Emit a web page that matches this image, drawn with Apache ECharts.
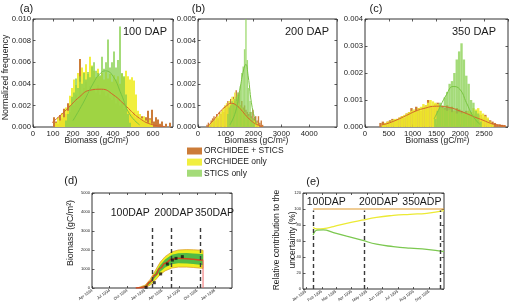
<!DOCTYPE html>
<html><head><meta charset="utf-8">
<script src="https://cdn.jsdelivr.net/npm/echarts@6/dist/echarts.min.js"></script>
<style>html,body{margin:0;padding:0;background:#fff}#c{width:518px;height:306px}</style>
</head><body><div id="c"></div>
<script>
// ---------------- DATA ----------------
const legendNames = ['ORCHIDEE + STICS', 'ORCHIDEE only', 'STICS only'];

// (a) 100 DAP : bins of 10 gC/m2 starting at 90 ; frequencies in 1e-3
const aBinStart = 90, aBinWidth = 10;
const aBoth  = [0,0.9,0.5,0.3,1.1,0.8,1.7,1.2,2.2,1.4,2.6,2.0,3.0,2.4,6.3,3.2,3.6,4.2,3.0,3.8,3.4,3.6,3.2,3.9,3.0,3.5,3.3,2.9,3.1,2.7,2.5,2.9,2.2,2.6,2.0,2.3,1.7,1.9,1.5,1.6,1.2,1.4,0.9,1.2,0.7,1.0,0.6,0.9,1.5,0.8,1.6,0.5,0.9,0.7,0.3,0.5,0,0.3,0,0.4,0];
const aOrch  = [0,0,0.4,0.9,0.6,1.3,0.9,1.8,1.5,2.9,3.6,4.4,3.9,5.0,4.2,5.5,5.1,5.8,4.9,6.5,5.7,5.2,4.6,5.4,4.7,5.0,4.4,5.1,4.5,4.9,4.2,4.8,4.4,4.7,4.0,4.9,4.6,5.2,4.7,4.4,4.6,4.3,3.0,1.5,1.2,0.8,1.0,0.6,0.4,0.7,0.3,0,0,0,0,0,0,0,0,0,0];
const aStics = [0,0,0,0,0,0,0,0.6,1.2,2.0,2.8,3.2,4.5,3.6,4.7,4.0,5.0,4.4,5.1,4.6,5.6,6.0,5.2,5.0,4.8,6.5,5.4,6.0,8.1,5.5,6.0,7.0,5.5,6.2,9.3,5.0,4.7,3.0,1.2,0.4,0,0,0,0,0,0,0,0,0,0,0,0,0,0,0,0,0,0,0,0,0];
const aBothFit  = [[95,0.4],[108,0.6],[167,1.6],[233,2.8],[283,3.4],[342,3.5],[400,3.0],[467,1.9],[533,0.8],[600,0.2],[660,0.05]];
const aSticsFit = [[200,0.6],[250,2.2],[300,4.0],[333,4.9],[363,5.2],[400,4.7],[442,3.0],[483,1.2],[533,0.2]];

// (b) 200 DAP : bins of 50 starting at 300
const bBinStart = 300, bBinWidth = 50;
const bBoth  = [0.1,0.2,0.1,0.3,0.4,0.5,0.3,0.6,0.4,0.7,0.6,0.8,0.7,1.0,0.9,1.2,1.0,1.3,1.1,1.4,1.2,1.7,1.3,1.6,1.0,1.2,0.9,1.0,0.8,0.7,0.6,0.7,0.5,0.8,0.4,0.5,0.3,0.5,0.2,0.3,0.1,0];
const bOrch  = [0,0,0.1,0.2,0.3,0.3,0.4,0.5,0.5,0.6,0.7,0.8,0.9,1.0,1.1,1.0,1.2,1.1,1.4,1.3,1.6,1.2,1.5,1.1,1.0,0.9,0.8,0.7,0.6,0.5,0.5,0.4,0.4,0.3,0.3,0.2,0.2,0.1,0,0,0,0];
const bStics = [0,0,0,0,0,0,0,0,0,0,0,0,0,0,0,0.6,0.9,1.0,1.2,1.1,1.3,1.4,1.6,1.5,1.9,2.5,2.8,3.6,5.0,3.1,1.8,1.2,0.7,0.4,0.2,0,0,0,0,0,0,0];
const bBothFit  = [[350,0.05],[550,0.3],[784,0.7],[1000,0.95],[1204,1.1],[1385,1.0],[1550,0.8],[1746,0.5],[1950,0.25],[2108,0.12],[2300,0.03]];
const bSticsFit = [[1150,0.1],[1350,0.7],[1500,1.7],[1650,2.7],[1720,2.9],[1800,2.4],[1950,0.9],[2100,0.15]];

// (c) 350 DAP : bins of 50 starting at 300
const cBinStart = 300, cBinWidth = 50;
const cBoth  = [0.15,0.2,0.15,0.2,0.25,0.3,0.25,0.3,0.35,0.4,0.35,0.5,0.55,0.7,0.6,0.75,0.7,0.6,0.75,0.8,1.0,0.8,0.75,0.85,0.9,0.8,0.75,0.7,0.8,0.7,0.75,0.6,0.7,0.65,0.6,0.55,0.6,0.5,0.55,0.45,0.5,0.4,0.45,0.35,0.45,0.3,0.25,0.2,0.15,0.1,0.1,0.08,0.07,0];
const cOrch  = [0,0.1,0.15,0.2,0.2,0.25,0.3,0.3,0.35,0.4,0.45,0.5,0.55,0.6,0.65,0.6,0.7,0.75,0.85,0.8,0.9,1.0,0.95,0.9,0.85,0.8,0.7,0.65,0.6,0.65,0.55,0.6,0.5,0.55,0.5,0.55,0.5,0.6,0.55,0.7,0.65,0.7,0.6,0.5,0.4,0.35,0.2,0.1,0,0,0,0,0,0];
const cStics = [0,0,0,0,0,0,0,0,0,0,0,0,0,0,0,0,0,0,0,0,0,0,0,0.3,0.6,0.9,0.8,1.1,1.3,1.6,1.7,2.0,2.5,2.8,3.1,2.5,1.9,1.6,1.0,0.9,0.6,0.5,0.2,0,0,0,0,0,0,0,0,0,0,0];
const cBothFit  = [[350,0.08],[454,0.12],[650,0.25],[872,0.43],[1050,0.58],[1221,0.68],[1500,0.77],[1779,0.72],[1950,0.62],[2128,0.5],[2300,0.37],[2477,0.25],[2650,0.13],[2826,0.06],[2950,0.03]];
const cSticsFit = [[1450,0.3],[1535,0.6],[1710,1.2],[1849,1.5],[1989,1.4],[2128,0.9],[2267,0.4],[2407,0.1]];

// (d) biomass time series, x = days after planting
const dDap0Date   = '1994-10-30';
const dTickDates  = ['1994-04-01','1994-07-01','1994-10-01','1995-01-01','1995-04-01','1995-07-01','1995-10-01','1996-01-01'];
const dTickLabels = ['Apr 1994','Jul 1994','Oct 1994','Jan 1995','Apr 1995','Jul 1995','Oct 1995','Jan 1996'];
const dMeanDap  = [15, 40, 64, 90, 116, 142, 168, 203, 237, 281, 315, 359, 366];
const dMean     = [0, 10, 70, 330, 680, 1035, 1300, 1510, 1560, 1545, 1510, 1470, 1465];
const dBandDap  = [22, 64, 90, 116, 142, 168, 203, 237, 281, 315, 359, 366];
const dYellowHi = [0, 150, 450, 900, 1350, 1650, 1900, 2000, 2020, 2010, 1990, 1985];
const dYellowLo = [0, 20, 150, 400, 700, 900, 1050, 1100, 1100, 1080, 1040, 1030];
const dGreenHi  = [0, 110, 350, 780, 1200, 1500, 1750, 1830, 1840, 1820, 1790, 1780];
const dGreenLo  = [0, 40, 220, 550, 850, 1080, 1250, 1300, 1290, 1260, 1210, 1200];
const dObsDap   = [69, 112, 145, 180, 206, 225, 258];
const dObs      = [35, 280, 740, 1260, 1470, 1560, 1650];
const dMarkers  = [100, 200, 350];
const dMarkerTop = 3300;
const dHarvest  = [[366, 1465], [366, 0]];

// (e) relative contribution
const eDap0Date   = '1994-10-07';
const eTickDates  = ['1995-01-01','1995-02-01','1995-03-01','1995-04-01','1995-05-01','1995-06-01','1995-07-01','1995-08-01','1995-09-01'];
const eTickLabels = ['Jan 1995','Feb 1995','Mar 1995','Apr 1995','May 1995','Jun 1995','Jul 1995','Aug 1995','Sep 1995'];
const eDap   = [100, 108, 120, 140, 166, 196, 225, 258, 291, 324, 358];
const eBoth  = [100, 100, 100, 100, 100, 100, 100, 100, 100, 100, 100];
const eOrch  = [77, 75, 75.5, 78, 82, 86, 89.6, 92, 93.4, 94.6, 97.9];
const eStics = [67.5, 73.5, 73.8, 70.5, 66, 61, 56, 53, 51, 49.6, 46.7];
const eMarkers = [100, 200, 350];
const eMarkerTop = 98;

// ---------------- STYLE ----------------
const FONT = '"Liberation Sans", Arial, Helvetica, sans-serif';
const C_BOTH = '#cc7c38', C_ORCH = '#efed2a', C_STICS = '#86cf4c';
const AX = '#333';

const DAY = 86400000;
const toDap = (s, s0) => Math.round((Date.parse(s) - Date.parse(s0)) / DAY);
const mkBins = (start, w, vals) => vals.map((v, i) => [start + i * w, start + (i + 1) * w, v / 1000]);
const perMil = pts => pts.map(p => [p[0], p[1] / 1000]);
const plain = v => String(Math.round(v));

function histSeries(name, gi, data, color, opacity, z) {
  return {
    type: 'custom', name, xAxisIndex: gi * 2, yAxisIndex: gi * 2, data, z, clip: true,
    encode: { x: [0, 1], y: 2 }, itemStyle: { color, opacity },
    renderItem(params, api) {
      const p0 = api.coord([api.value(0), api.value(2)]);
      const p1 = api.coord([api.value(1), 0]);
      return { type: 'rect', shape: { x: p0[0], y: p0[1], width: p1[0] - p0[0], height: p1[1] - p0[1] },
               style: { fill: color, opacity } };
    }
  };
}
function fitSeries(gi, data, color, z) {
  return { type: 'line', xAxisIndex: gi * 2, yAxisIndex: gi * 2, data, smooth: true, showSymbol: false,
           lineStyle: { color, width: 1 }, z, silent: true };
}
const TICK = { inside: true, length: 2.5, lineStyle: { color: AX, width: 0.8 } };
function xPair(gi, min, max, interval, label, customTicks) {
  const tick = customTicks ? Object.assign({}, TICK, { length: 2, customValues: customTicks }) : TICK;
  const base = { type: 'value', gridIndex: gi, min, max, interval,
    axisLine: { show: false, onZero: false }, splitLine: { show: false }, axisTick: tick };
  return [
    Object.assign({}, base, { position: 'bottom', axisLabel: Object.assign({ color: '#222', fontFamily: FONT }, label) }),
    Object.assign({}, base, { position: 'top', axisLabel: { show: false } })
  ];
}
function yPair(gi, max, interval, label) {
  const base = { type: 'value', gridIndex: gi, min: 0, max, interval,
    axisLine: { show: false, onZero: false }, splitLine: { show: false }, axisTick: TICK };
  return [
    Object.assign({}, base, { position: 'left', axisLabel: Object.assign({ color: '#222', fontFamily: FONT }, label) }),
    Object.assign({}, base, { position: 'right', axisLabel: { show: false } })
  ];
}

const histLabelX = { fontSize: 7.7, margin: 3, showMaxLabel: false, formatter: plain };
const histLabelY = { fontSize: 7.7, margin: 2, formatter: v => v.toFixed(3) };

const dTickDap = dTickDates.map(s => toDap(s, dDap0Date));
const dLab = {}; dTickDap.forEach((v, i) => dLab[v] = dTickLabels[i]);
const eTickDap = eTickDates.map(s => toDap(s, eDap0Date));
const eLab = {}; eTickDap.forEach((v, i) => eLab[v] = eTickLabels[i]);

const gridBase = { show: true, borderColor: AX, borderWidth: 1, backgroundColor: 'transparent' };
const grids = [
  Object.assign({ left: 33, top: 19, width: 140, height: 108 }, gridBase),
  Object.assign({ left: 198, top: 19, width: 139, height: 108 }, gridBase),
  Object.assign({ left: 365, top: 19, width: 143, height: 108 }, gridBase),
  Object.assign({ left: 92, top: 193, width: 140, height: 95 }, gridBase),
  Object.assign({ left: 303, top: 193, width: 141, height: 96 }, gridBase)
];

const xAxes = [].concat(
  xPair(0, 0, 700, 100, histLabelX),
  xPair(1, 0, 5000, 1000, histLabelX),
  xPair(2, 0, 3000, 500, histLabelX),
  xPair(3, -213, 517, 100, { fontSize: 4, rotate: 35, margin: 2, customValues: dTickDap, formatter: v => dLab[v] || '' }, dTickDap),
  xPair(4, 80, 358, 20, { fontSize: 4, rotate: 35, margin: 2, customValues: eTickDap, formatter: v => eLab[v] || '' }, eTickDap)
);
const yAxes = [].concat(
  yPair(0, 0.010, 0.002, histLabelY),
  yPair(1, 0.005, 0.001, histLabelY),
  yPair(2, 0.004, 0.001, histLabelY),
  yPair(3, 5000, 1000, { fontSize: 4, margin: 2, formatter: plain }),
  yPair(4, 120, 20, { fontSize: 4, margin: 2, formatter: plain })
);

function bandSeries(gi, xs, hi, lo, fill, stroke, z) {
  return {
    type: 'custom', xAxisIndex: gi * 2, yAxisIndex: gi * 2, data: [[0]], z, clip: true, silent: true,
    renderItem(params, api) {
      const pts = [];
      xs.forEach((x, i) => pts.push(api.coord([x, hi[i]])));
      for (let i = xs.length - 1; i >= 0; i--) pts.push(api.coord([xs[i], lo[i]]));
      return { type: 'polygon', shape: { points: pts }, style: { fill, stroke, lineWidth: 0.8 } };
    }
  };
}
function markers(xs, top) {
  return { symbol: 'none', silent: true, label: { show: false },
           lineStyle: { type: [4, 3], color: '#3a3a3a', width: 1.4 },
           data: xs.map(x => [{ coord: [x, 0] }, { coord: [x, top] }]) };
}
const zip = (xs, ys) => xs.map((x, i) => [x, ys[i]]);

const series = [
  histSeries(legendNames[0], 0, mkBins(aBinStart, aBinWidth, aBoth), C_BOTH, 1, 1),
  histSeries(legendNames[1], 0, mkBins(aBinStart, aBinWidth, aOrch), C_ORCH, 0.9, 2),
  histSeries(legendNames[2], 0, mkBins(aBinStart, aBinWidth, aStics), C_STICS, 0.75, 3),
  fitSeries(0, perMil(aBothFit), '#d2642a', 4),
  fitSeries(0, perMil(aSticsFit), '#78c440', 4),
  histSeries(legendNames[0], 1, mkBins(bBinStart, bBinWidth, bBoth), C_BOTH, 1, 1),
  histSeries(legendNames[1], 1, mkBins(bBinStart, bBinWidth, bOrch), C_ORCH, 0.9, 2),
  histSeries(legendNames[2], 1, mkBins(bBinStart, bBinWidth, bStics), C_STICS, 0.75, 3),
  fitSeries(1, perMil(bBothFit), '#d2642a', 4),
  fitSeries(1, perMil(bSticsFit), '#78c440', 4),
  histSeries(legendNames[0], 2, mkBins(cBinStart, cBinWidth, cBoth), C_BOTH, 1, 1),
  histSeries(legendNames[1], 2, mkBins(cBinStart, cBinWidth, cOrch), C_ORCH, 0.9, 2),
  histSeries(legendNames[2], 2, mkBins(cBinStart, cBinWidth, cStics), C_STICS, 0.75, 3),
  fitSeries(2, perMil(cBothFit), '#d2642a', 4),
  fitSeries(2, perMil(cSticsFit), '#78c440', 4),
  // (d)
  bandSeries(3, dBandDap, dYellowHi, dYellowLo, '#eeee1e', '#e0a030', 1),
  bandSeries(3, dBandDap, dGreenHi, dGreenLo, '#52bb44', null, 2),
  { type: 'line', xAxisIndex: 6, yAxisIndex: 6, data: zip(dMeanDap, dMean), smooth: true, smoothMonotone: 'x',
    showSymbol: false, lineStyle: { color: '#d2461e', width: 1.5 }, z: 3, silent: true,
    markLine: markers(dMarkers, dMarkerTop) },
  { type: 'line', xAxisIndex: 6, yAxisIndex: 6, data: dHarvest, showSymbol: false,
    lineStyle: { color: '#f06a6a', width: 1 }, z: 3, silent: true },
  { type: 'scatter', xAxisIndex: 6, yAxisIndex: 6, data: zip(dObsDap, dObs), symbol: 'rect', symbolSize: 3,
    itemStyle: { color: '#111' }, z: 5, silent: true },
  // (e)
  { type: 'line', xAxisIndex: 8, yAxisIndex: 8, data: zip(eDap, eBoth), showSymbol: false,
    lineStyle: { color: '#e09a2a', width: 1.2 }, z: 3, silent: true, markLine: markers(eMarkers, eMarkerTop) },
  { type: 'line', xAxisIndex: 8, yAxisIndex: 8, data: zip(eDap, eOrch), smooth: true, showSymbol: false,
    lineStyle: { color: '#ecea34', width: 1.3 }, z: 3, silent: true },
  { type: 'line', xAxisIndex: 8, yAxisIndex: 8, data: zip(eDap, eStics), smooth: true, showSymbol: false,
    lineStyle: { color: '#7cc850', width: 1.3 }, z: 3, silent: true }
];

function txt(text, x, y, size, align, rot) {
  return { type: 'text', x, y, rotation: rot || 0, z: 100, silent: true,
           style: { text, fontSize: size, fontFamily: FONT, fill: '#1a1a1a', align: align || 'center', verticalAlign: 'middle' } };
}
const R = Math.PI / 2;
const graphic = [
  txt('(a)', 26.5, 8.5, 11), txt('(b)', 198.5, 8.5, 11), txt('(c)', 376, 8.5, 11),
  txt('(d)', 71, 181, 11), txt('(e)', 313, 181.5, 11),
  txt('100 DAP', 123, 32, 11, 'left'), txt('200 DAP', 285, 32, 11, 'left'), txt('350 DAP', 452, 32, 11, 'left'),
  txt('Biomass (gC/m²)', 96.5, 140.5, 8.5), txt('Biomass (gC/m²)', 256.5, 140.5, 8.5), txt('Biomass (gC/m²)', 437.5, 140.5, 8.5),
  txt('Normalized frequency', 6, 77.5, 8.8, 'center', R),
  txt('100DAP', 110.7, 213.3, 10.5, 'left'), txt('200DAP', 154.3, 213.3, 10.5, 'left'), txt('350DAP', 195, 213.3, 10.5, 'left'),
  txt('Biomass (gC/m²)', 71, 233, 8.8, 'center', R),
  txt('100DAP', 306.7, 201.7, 10.5, 'left'), txt('200DAP', 359, 201.7, 10.5, 'left'), txt('350ADP', 402.3, 201.7, 10.5, 'left'),
  txt('Relative contribution to the', 276.7, 240, 8.5, 'center', R),
  txt('uncertainty (%)', 292.5, 240, 8.5, 'center', R)
];

const chart = echarts.init(document.getElementById('c'), null, { renderer: 'canvas' });
chart.setOption({
  animation: false,
  backgroundColor: '#fff',
  textStyle: { fontFamily: FONT },
  legend: { data: legendNames, orient: 'vertical', left: 187, top: 146.5, itemWidth: 15, itemHeight: 7, itemGap: 2.1,
            icon: 'rect', padding: 0, selectedMode: false,
            textStyle: { fontSize: 8.5, color: '#1a1a1a', fontFamily: FONT, padding: [0, 0, 0, -3] } },
  grid: grids, xAxis: xAxes, yAxis: yAxes, series, graphic
});
</script></body></html>
